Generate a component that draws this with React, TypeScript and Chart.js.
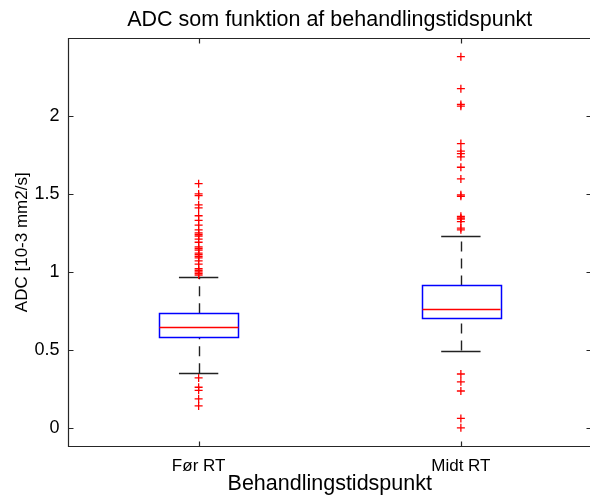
import React, { useEffect, useRef } from "react";
import { Chart, registerables } from "chart.js";
Chart.register(...registerables);

const categories = ["Før RT", "Midt RT"];
const lowerWhisker = [0.35, 0.495];
const q1 = [0.581, 0.703];
const medians = [0.649, 0.763];
const q3 = [0.735, 0.913];
const upperWhisker = [0.968, 1.228];
const outliersFoer = [
  1.566, 1.5, 1.489, 1.43, 1.41, 1.36, 1.33, 1.3, 1.27, 1.25, 1.24, 1.23, 1.21, 1.19,
  1.16, 1.15, 1.14, 1.12, 1.11, 1.1, 1.09, 1.07, 1.05, 1.02, 1.01, 1.0, 0.99, 0.98,
  0.32, 0.26, 0.24, 0.185, 0.14,
];
const outliersMidt = [
  2.38, 2.175, 2.074, 2.063, 1.823, 1.774, 1.759, 1.738, 1.671, 1.596, 1.494, 1.485,
  1.356, 1.346, 1.339, 1.322, 1.281, 1.27,
  0.345, 0.295, 0.236, 0.06, 0.0,
];
const yTicks = [0, 0.5, 1, 1.5, 2];
const xTicks = [1, 2];

const FONT = "'Liberation Sans', Arial, Helvetica, sans-serif";

const boxPlugin = {
  id: "boxPlugin",
  beforeDatasetsDraw(chart: any) {
    const { ctx, scales } = chart;
    const xs = scales.x;
    const ys = scales.y;
    const boxW = 0.3;
    const capW = 0.15;
    ctx.save();
    for (let i = 0; i < categories.length; i++) {
      const c = i + 1;
      const xc = Math.round(xs.getPixelForValue(c)) + 0.5;
      const xl = xs.getPixelForValue(c - boxW / 2);
      const xr = xs.getPixelForValue(c + boxW / 2);
      const cl = xs.getPixelForValue(c - capW / 2);
      const cr = xs.getPixelForValue(c + capW / 2);
      const yq1 = ys.getPixelForValue(q1[i]);
      const yq3 = ys.getPixelForValue(q3[i]);
      const ymed = ys.getPixelForValue(medians[i]);
      const ylo = ys.getPixelForValue(lowerWhisker[i]);
      const yhi = ys.getPixelForValue(upperWhisker[i]);
      // whiskers (dashed)
      ctx.strokeStyle = "#222";
      ctx.lineWidth = 1.4;
      ctx.setLineDash([10, 7]);
      ctx.beginPath();
      ctx.moveTo(xc, yq3);
      ctx.lineTo(xc, yhi);
      ctx.stroke();
      ctx.beginPath();
      ctx.moveTo(xc, ylo);
      ctx.lineTo(xc, yq1);
      ctx.stroke();
      ctx.setLineDash([]);
      // caps
      ctx.beginPath();
      ctx.moveTo(cl, Math.round(yhi) + 0.5);
      ctx.lineTo(cr, Math.round(yhi) + 0.5);
      ctx.moveTo(cl, Math.round(ylo) + 0.5);
      ctx.lineTo(cr, Math.round(ylo) + 0.5);
      ctx.stroke();
      // box
      ctx.strokeStyle = "#0000ff";
      ctx.lineWidth = 1.5;
      ctx.beginPath();
      ctx.rect(Math.round(xl) + 0.5, Math.round(yq3) + 0.5, Math.round(xr - xl), Math.round(yq1 - yq3));
      ctx.stroke();
      // median
      ctx.strokeStyle = "#ff0000";
      ctx.lineWidth = 1.4;
      ctx.beginPath();
      ctx.moveTo(Math.round(xl) + 0.5, Math.round(ymed) + 0.5);
      ctx.lineTo(Math.round(xr) + 0.5, Math.round(ymed) + 0.5);
      ctx.stroke();
    }
    ctx.restore();
  },
  afterDraw(chart: any) {
    const { ctx, chartArea, scales } = chart;
    const { left, right, top, bottom } = chartArea;
    const L = Math.round(left) + 0.5;
    const R = Math.round(right) - 0.5;
    const T = Math.round(top) + 0.5;
    const B = Math.round(bottom) - 0.5;
    ctx.save();
    ctx.strokeStyle = "#262626";
    ctx.lineWidth = 1.2;
    ctx.beginPath();
    ctx.rect(L, T, R - L, B - T);
    const tl = 5;
    for (const v of yTicks) {
      const y = Math.round(scales.y.getPixelForValue(v)) + 0.5;
      ctx.moveTo(L, y);
      ctx.lineTo(L + tl, y);
      ctx.moveTo(R, y);
      ctx.lineTo(R - tl, y);
    }
    for (const v of xTicks) {
      const x = Math.round(scales.x.getPixelForValue(v)) + 0.5;
      ctx.moveTo(x, B);
      ctx.lineTo(x, B - tl);
      ctx.moveTo(x, T);
      ctx.lineTo(x, T + tl);
    }
    ctx.stroke();
    ctx.restore();
  },
};

export default function App() {
  const ref = useRef<HTMLCanvasElement | null>(null);
  useEffect(() => {
    if (!ref.current) return;
    const outlierData = [
      ...outliersFoer.map((v) => ({ x: 1, y: v })),
      ...outliersMidt.map((v) => ({ x: 2, y: v })),
    ];
    const chart = new Chart(ref.current, {
      type: "scatter",
      data: {
        datasets: [
          {
            label: "Outliers",
            data: outlierData,
            pointStyle: "cross",
            pointRadius: 4,
            pointBorderColor: "#ff0000",
            pointBackgroundColor: "#ff0000",
            pointBorderWidth: 1.3,
            borderColor: "#ff0000",
          },
        ],
      },
      options: {
        animation: false,
        responsive: false,
        maintainAspectRatio: false,
        layout: { padding: { left: 0, right: 8, top: 0, bottom: 0 } },
        plugins: {
          legend: { display: false },
          tooltip: { enabled: false },
          title: {
            display: true,
            fullSize: false,
            text: "ADC som funktion af behandlingstidspunkt",
            color: "#000",
            font: { family: FONT, size: 21.5, weight: "normal", lineHeight: 1.2 },
            padding: { top: 7, bottom: 5.2 },
          },
        },
        scales: {
          x: {
            type: "linear",
            min: 0.5,
            max: 2.5,
            afterBuildTicks: (s: any) => {
              s.ticks = xTicks.map((v) => ({ value: v }));
            },
            afterFit: (s: any) => {
              s.height = 48.5;
            },
            ticks: {
              color: "#000",
              font: { family: FONT, size: 17 },
              padding: 10,
              autoSkip: false,
              maxRotation: 0,
              callback: (v: any) => categories[Math.round(Number(v)) - 1] ?? "",
            },
            grid: { display: false, drawTicks: false },
            border: { display: false },
            title: {
              display: true,
              text: "Behandlingstidspunkt",
              color: "#000",
              font: { family: FONT, size: 21.5, lineHeight: 1.05 },
              padding: { top: 0, bottom: 0 },
            },
          },
          y: {
            type: "linear",
            min: -0.12,
            max: 2.5,
            afterBuildTicks: (s: any) => {
              s.ticks = yTicks.map((v) => ({ value: v }));
            },
            afterFit: (s: any) => {
              s.width = 67.5;
            },
            ticks: {
              color: "#000",
              font: { family: FONT, size: 18 },
              padding: 8,
              callback: (v: any) => String(v),
            },
            grid: { display: false, drawTicks: false },
            border: { display: false },
            title: {
              display: true,
              text: "ADC [10-3 mm2/s]",
              color: "#000",
              font: { family: FONT, size: 17, lineHeight: 1.2 },
              padding: { top: 12, bottom: 0 },
            },
          },
        },
      },
      plugins: [boxPlugin],
    } as any);
    return () => chart.destroy();
  }, []);
  return (
    <div style={{ position: "fixed", left: 0, top: 0, width: 600, height: 495, background: "#fff" }}>
      <canvas ref={ref} width={600} height={495} style={{ display: "block", width: 600, height: 495 }} />
    </div>
  );
}
